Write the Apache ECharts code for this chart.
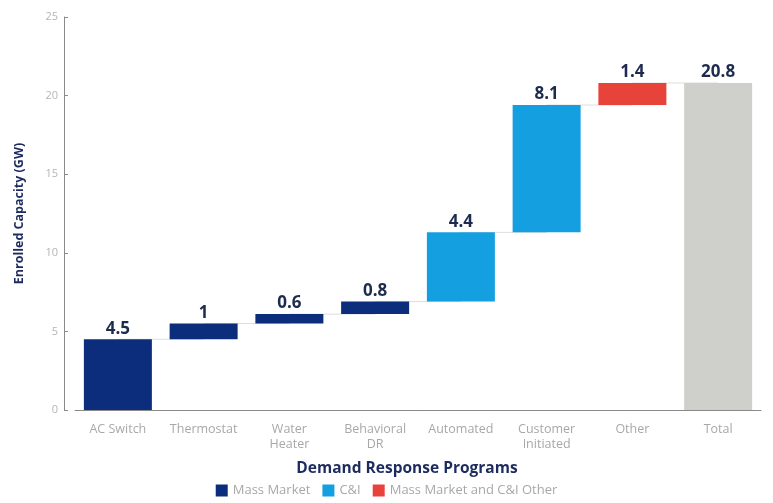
<!DOCTYPE html>
<html><head><meta charset="utf-8">
<script src="https://cdn.jsdelivr.net/npm/echarts@6/dist/echarts.min.js"></script>
<style>html,body{margin:0;padding:0;background:#fff}#c{width:773px;height:503px}</style>
</head><body><div id="c"></div>
<script>
var categories = ['AC Switch','Thermostat','Water\nHeater','Behavioral\nDR','Automated','Customer\nInitiated','Other','Total'];
var groups = ['Mass Market','Mass Market','Mass Market','Mass Market','C&I','C&I','Mass Market and C&I Other','Total'];
var increments = [4.5, 1, 0.6, 0.8, 4.4, 8.1, 1.4];
var totalValue = 20.8;
var yTicks = [0, 5, 10, 15, 20, 25];

var base = [], tops = [], mm = [], ci = [], oth = [], tot = [];
var run = 0;
for (var i = 0; i < categories.length; i++) {
  if (groups[i] === 'Total') {
    base.push(0); tot.push(totalValue); mm.push('-'); ci.push('-'); oth.push('-');
    tops.push(totalValue);
  } else {
    var v = increments[i];
    base.push(run);
    mm.push(groups[i] === 'Mass Market' ? v : '-');
    ci.push(groups[i] === 'C&I' ? v : '-');
    oth.push(groups[i] === 'Mass Market and C&I Other' ? v : '-');
    tot.push('-');
    run = Math.round((run + v) * 10) / 10;
    tops.push(run);
  }
}
var lbl = {show: true, position: 'top', color: '#1d2b4f', fontWeight: 'bold', fontSize: 17, fontFamily: 'Open Sans', distance: 2};
var chart = echarts.init(document.getElementById('c'));
chart.setOption({
  animation: false,
  grid: {left: 75, right: 12, top: 17, bottom: 93},
  legend: {
    data: ['Mass Market', 'C&I', 'Mass Market and C&I Other'],
    bottom: 1, left: 'center', itemWidth: 12, itemHeight: 12, itemGap: 12,
    icon: 'rect',
    textStyle: {color: '#a8a8a8', fontSize: 13, fontFamily: 'Open Sans'}
  },
  xAxis: {
    type: 'category', data: categories,
    name: 'Demand Response Programs', nameLocation: 'middle', nameGap: 51,
    nameTextStyle: {color: '#1d2b5e', fontWeight: 'bold', fontSize: 15.5, fontFamily: 'Open Sans', padding: [0, 22, 0, 0]},
    axisLine: {lineStyle: {color: '#8a8a8a'}},
    axisTick: {show: false},
    axisLabel: {color: '#a8a8a8', fontSize: 12.5, fontFamily: 'Open Sans', lineHeight: 15, interval: 0, margin: 12}
  },
  yAxis: {
    type: 'value', min: 0, max: 25, interval: 5, offset: 11,
    name: 'Enrolled Capacity (GW)', nameLocation: 'middle', nameGap: 38,
    nameTextStyle: {color: '#1d2b5e', fontWeight: 'bold', fontSize: 12.5, fontFamily: 'Open Sans'},
    axisLine: {show: true, lineStyle: {color: '#8a8a8a'}},
    axisTick: {show: true, length: 4, inside: true, lineStyle: {color: '#8a8a8a'}},
    splitLine: {show: false},
    axisLabel: {color: '#b5b5b5', fontSize: 11, fontFamily: 'Open Sans', margin: 6,
      formatter: function (v) { return yTicks.indexOf(v) >= 0 ? v : ''; }}
  },
  series: [
    {type: 'line', data: tops, step: 'end', symbol: 'none', z: 1, silent: true,
     lineStyle: {color: '#dedede', width: 1}},
    {type: 'bar', stack: 's', data: base, barWidth: 68, itemStyle: {color: 'transparent'}, silent: true, z: 2},
    {name: 'Mass Market', type: 'bar', stack: 's', data: mm, itemStyle: {color: '#0c2c7c'}, label: lbl, z: 2},
    {name: 'C&I', type: 'bar', stack: 's', data: ci, itemStyle: {color: '#14a0e0'}, label: lbl, z: 2},
    {name: 'Mass Market and C&I Other', type: 'bar', stack: 's', data: oth, itemStyle: {color: '#e8433a'}, label: lbl, z: 2},
    {name: 'Total', type: 'bar', stack: 's', data: tot, itemStyle: {color: '#cfcfcb'}, label: lbl, z: 2}
  ]
});
</script></body></html>
